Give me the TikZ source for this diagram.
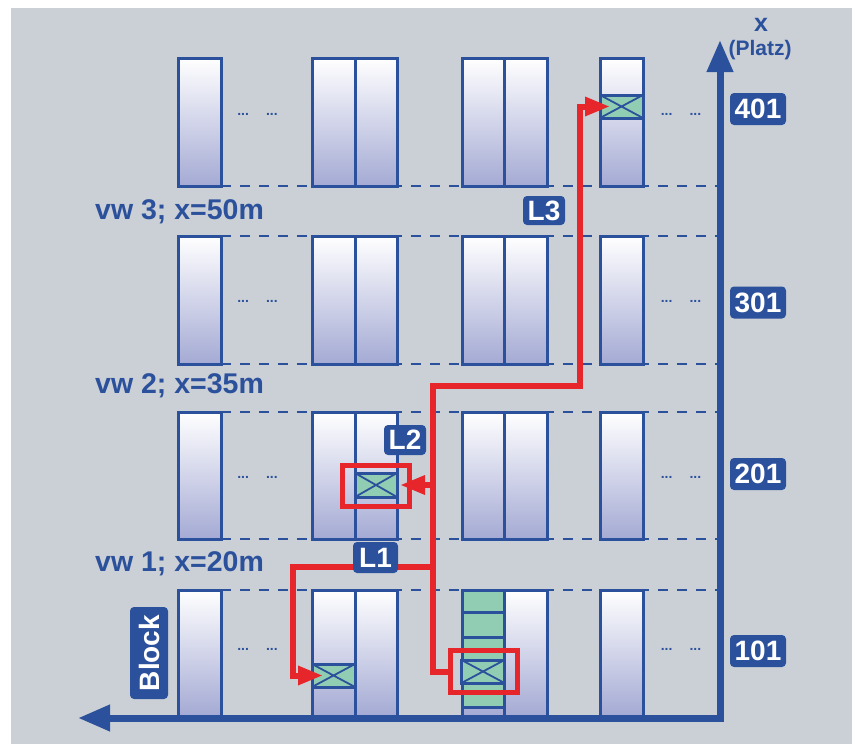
\documentclass[tikz,border=0pt]{standalone}
\usepackage{fontspec}
\setmainfont{Liberation Sans}
\usetikzlibrary{arrows.meta}
\definecolor{bg}{RGB}{203,208,214}
\definecolor{dblue}{RGB}{44,81,156}
\definecolor{lav}{RGB}{164,170,212}
\definecolor{pgreen}{RGB}{145,205,178}
\definecolor{rred}{RGB}{231,38,44}
\tikzset{
  rackline/.style={draw=dblue, line width=3pt},
  gridline/.style={draw=dblue, line width=2.8pt, dash pattern=on 10pt off 9pt},
  pallet/.style={draw=dblue, fill=pgreen, line width=3pt, minimum width=43pt, minimum height=23pt, inner sep=0pt,
    path picture={\draw[dblue, line width=1.8pt] (path picture bounding box.north west) -- (path picture bounding box.south east)
      (path picture bounding box.north east) -- (path picture bounding box.south west);}},
  selbox/.style={draw=rred, line width=5.5pt, minimum width=67pt, minimum height=42pt, inner sep=0pt},
  route/.style={draw=rred, line width=6pt, line join=miter},
  redtip/.style={-{Triangle[length=25pt,width=18pt]}},
  lab/.style={fill=dblue, text=white, rounded corners=4pt, inner sep=0pt, font=\fontsize{28}{28}\selectfont\bfseries},
  vwlab/.style={text=dblue, font=\fontsize{28.5}{28.5}\selectfont\bfseries, inner sep=0pt, anchor=base west},
  dotsl/.style={text=dblue, font=\fontsize{14}{14}\selectfont\bfseries, inner sep=0pt},
  axisline/.style={draw=dblue, line width=7pt, line join=miter}
}
\begin{document}
\begin{tikzpicture}[x=1pt,y=-1pt]
\useasboundingbox (0,0) rectangle (852,744);
\fill[bg] (11,8) rectangle (852,744);
% dashed aisle lines
\foreach \yy in {186,236,364,412,539,590}
  \draw[gridline] (221,\yy) -- (717,\yy);
% racks
\foreach \ya/\yb in {58/186, 236/364, 412/539, 590/716}{
  \foreach \xa/\xb in {178/221, 312/397, 462/547, 600/643}{
    \shade[top color=white, middle color=white, bottom color=lav] (\xa,\ya) rectangle (\xb,\yb);
  }
}
% stacked green column
\fill[pgreen] (462,590) rectangle (504,707);
\foreach \ya/\yb in {58/186, 236/364, 412/539, 590/716}{
  \foreach \xa/\xb in {178/221, 312/397, 462/547, 600/643}{
    \draw[rackline] (\xa,\ya) rectangle (\xb,\yb);
  }
  \draw[rackline] (355,\ya) -- (355,\yb);
  \draw[rackline] (504,\ya) -- (504,\yb);
}
\foreach \yy in {612,637,707}
  \draw[rackline] (462,\yy) -- (504,\yy);
% dots
\foreach \yy in {114,301,477,649}{
  \node[dotsl] at (257.5,\yy) {...\hspace{17pt}...};
  \node[dotsl] at (681,\yy) {...\hspace{17pt}...};
}
% pallets
\node[pallet] (p0) at (483,671.5) {};
\node[pallet] (p1) at (333.5,675.5) {};
\node[pallet, minimum width=42pt, minimum height=24pt] (p2) at (376,485) {};
\node[pallet] (p4) at (621.5,106.5) {};
% axes
\coordinate (o) at (720,718);
\coordinate (xend) at (78,718);
\coordinate (yend) at (720,40);
\draw[axisline, {Triangle[length=32pt,width=25pt]}-{Triangle[length=32pt,width=25pt]}] (xend) -- (o) -- (yend);
% red routes
\node[selbox] (srcbox) at (484,671.5) {};
\node[selbox, minimum height=41pt] (l2box) at (376,486) {};
\coordinate (tA) at (433,386);
\coordinate (tB) at (579.5,386);
\coordinate (l1j) at (433,567);
\coordinate (l1c) at (293,567);
\draw[route, redtip, shorten >=11.5pt] (srcbox.west) -| (tA) -- (tB) |- (p4.center);
\draw[route, redtip, shorten >=24pt] (tA |- p2.center) -- (p2.center);
\draw[route, redtip, shorten >=10.5pt] (l1j) -- (l1c) |- (p1.center);
% labels
\node[lab, minimum width=45pt, minimum height=31pt] (L1) at (375.5,557.5) {L1};
\node[lab, minimum width=42pt, minimum height=30pt] (L2) at (405,440) {L2};
\node[lab, minimum width=42pt, minimum height=29pt] (L3) at (544,210.5) {L3};
\foreach \nn/\yy in {401/109, 301/302.5, 201/474, 101/651}
  \node[lab, minimum width=56pt, minimum height=32pt] (n\nn) at (758,\yy) {\nn};
\node[lab, rotate=90, minimum width=92pt, minimum height=38pt] (blk) at (149,653) {Block};
\node[vwlab] (vw3) at (95,219) {vw 3; x=50m};
\node[vwlab] (vw2) at (95,393) {vw 2; x=35m};
\node[vwlab] (vw1) at (95,571) {vw 1; x=20m};
\node[text=dblue, font=\fontsize{25}{25}\selectfont\bfseries, inner sep=0pt] (xl) at (761,25) {x};
\node[text=dblue, font=\fontsize{21}{21}\selectfont\bfseries, inner sep=0pt] (pl) at (760,50) {(Platz)};
\end{tikzpicture}
\end{document}
